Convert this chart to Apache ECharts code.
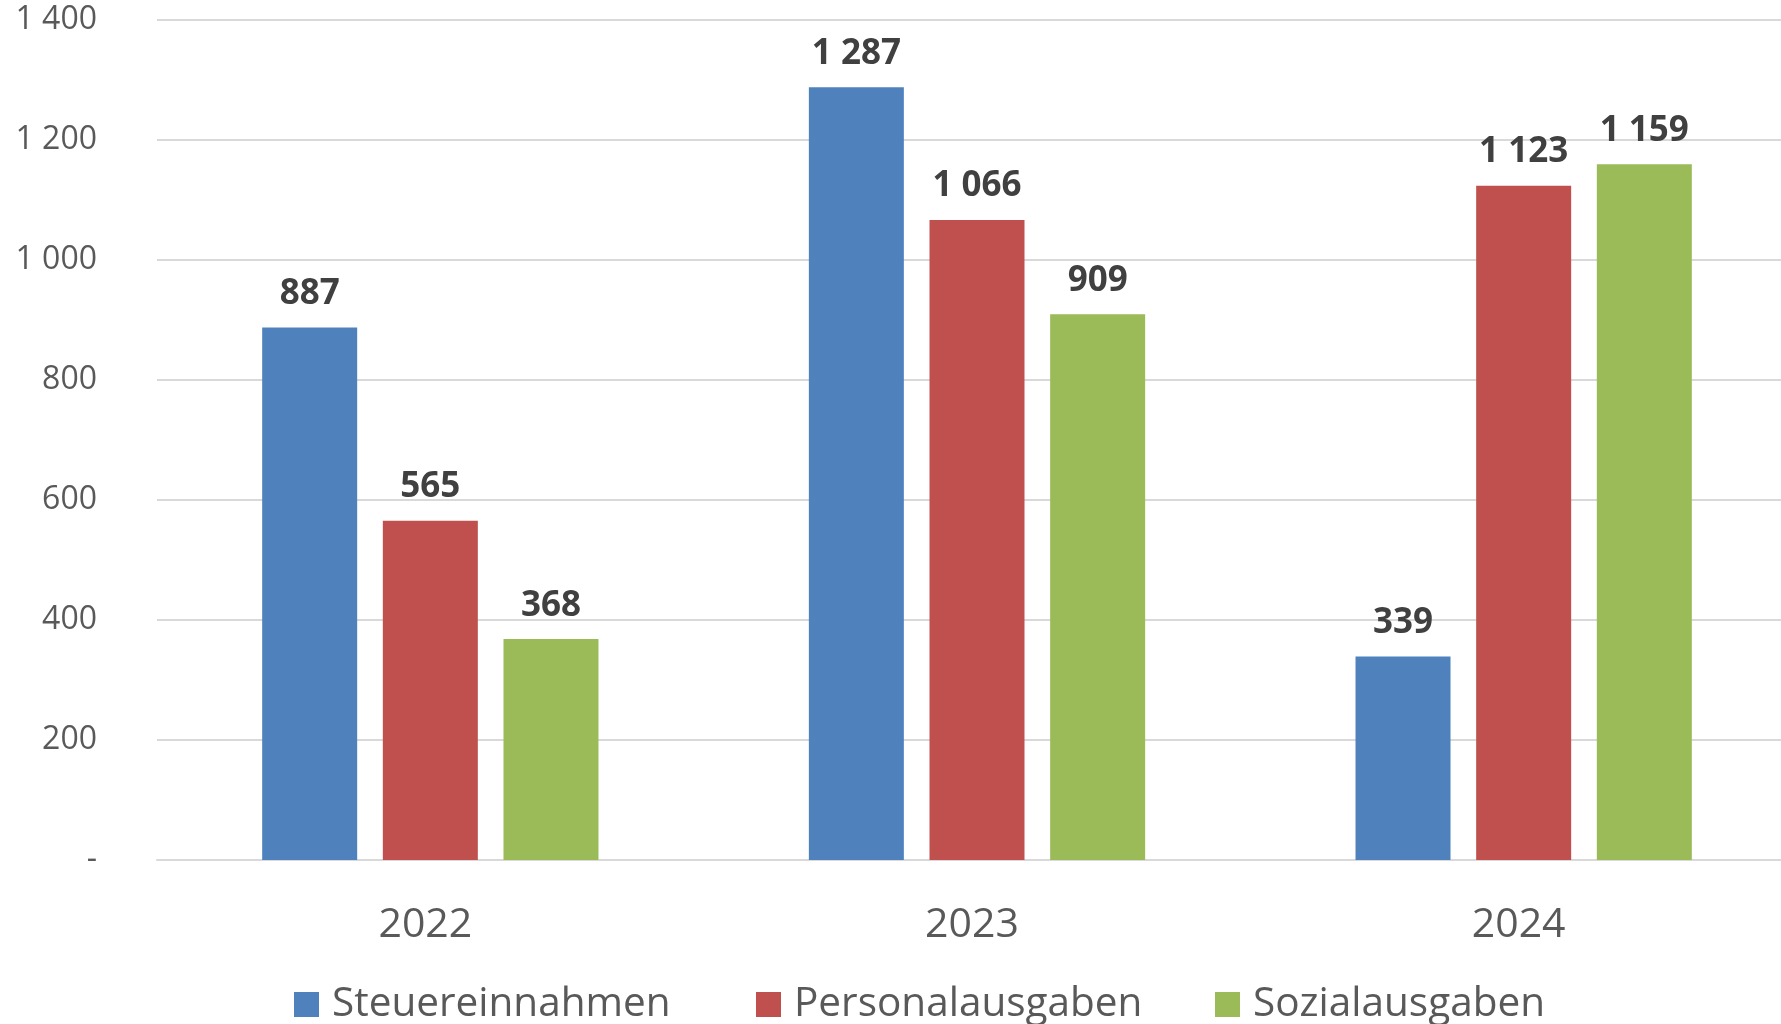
<!DOCTYPE html>
<html>
<head>
<meta charset="utf-8">
<script src="https://cdn.jsdelivr.net/npm/echarts@6/dist/echarts.min.js"></script>
<style>
html,body{margin:0;padding:0;background:#fff;}
#chart{width:1781px;height:1024px;}
</style>
</head>
<body>
<div id="chart"></div>
<script>
const categories = ['2022', '2023', '2024'];
const seriesNames = ['Steuereinnahmen', 'Personalausgaben', 'Sozialausgaben'];
const steuereinnahmen = [887, 1287, 339];
const personalausgaben = [565, 1066, 1123];
const sozialausgaben = [368, 909, 1159];
const yTicks = [0, 200, 400, 600, 800, 1000, 1200, 1400];
const colors = ['#4F81BD', '#C0504D', '#9BBB59'];
const legendLefts = [294, 756, 1215];

function fmt(v) {
  if (v === 0) return '-';
  return String(v).replace(/\B(?=(\d{3})+(?!\d))/g, ' ');
}

const chart = echarts.init(document.getElementById('chart'), null, {renderer: 'canvas'});
const values = [steuereinnahmen, personalausgaben, sozialausgaben];

chart.setOption({
  animation: false,
  color: colors,
  textStyle: {fontFamily: 'Open Sans'},
  grid: {left: 157, width: 1640, top: 19.5, bottom: 164, containLabel: false, outerBoundsMode: 'none'},
  legend: seriesNames.map((name, i) => ({
    left: legendLefts[i], top: 984, padding: 0,
    itemWidth: 25, itemHeight: 25,
    icon: 'rect',
    textStyle: {fontFamily: 'Open Sans', fontSize: 40.5, color: '#595959', padding: [0, 0, 0, 8]},
    data: [name]
  })),
  xAxis: {
    type: 'category',
    data: categories,
    axisLine: {show: true, lineStyle: {color: '#D9D9D9', width: 2}},
    axisTick: {show: false},
    axisLabel: {fontFamily: 'Open Sans', fontSize: 41, color: '#595959', margin: 45, padding: [0, 10, 0, 0]}
  },
  yAxis: {
    type: 'value',
    min: yTicks[0], max: yTicks[yTicks.length - 1], interval: 200,
    axisLine: {show: false},
    axisTick: {show: false},
    splitLine: {lineStyle: {color: '#D9D9D9', width: 2}},
    axisLabel: {fontFamily: 'Open Sans', fontSize: 32, color: '#595959', margin: 60, formatter: fmt}
  },
  series: seriesNames.map((name, i) => ({
    name: name,
    type: 'bar',
    data: values[i],
    barWidth: 95,
    barGap: '27%',
    itemStyle: {color: colors[i]},
    label: {
      show: true, position: 'top', distance: 16,
      fontFamily: 'Open Sans', fontSize: 35, fontWeight: 'bold', color: '#404040',
      formatter: p => fmt(p.value)
    }
  }))
});
</script>
</body>
</html>
